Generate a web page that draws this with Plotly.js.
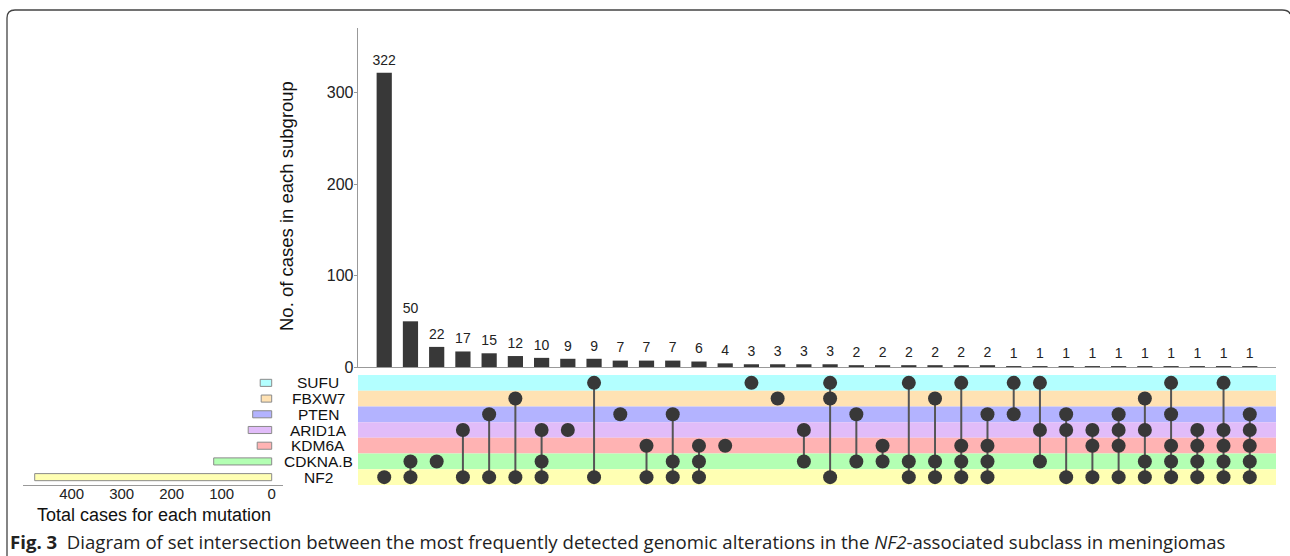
<!DOCTYPE html>
<html><head><meta charset="utf-8">
<script src="https://cdn.plot.ly/plotly-3.0.1.min.js"></script>
<style>html,body{margin:0;padding:0;background:#fff}#chart{width:1290px;height:556px}</style>
</head><body><div id="chart"></div>
<script>
// ---- data ----
const sets = ["SUFU","FBXW7","PTEN","ARID1A","KDM6A","CDKNA.B","NF2"];
const setTotals = [23, 21, 38, 47, 29, 116, 474];
const setColors = ["#b3ffff","#ffe2b3","#b3b3ff","#e1bcf9","#ffb3b3","#b3ffb3","#ffffb3"];
const subgroupCounts = [322,50,22,17,15,12,10,9,9,7,7,7,6,4,3,3,3,3,2,2,2,2,2,2,1,1,1,1,1,1,1,1,1,1];
const subgroupMembers = [
 ["NF2"],
 ["CDKNA.B","NF2"],
 ["CDKNA.B"],
 ["ARID1A","NF2"],
 ["PTEN","NF2"],
 ["FBXW7","NF2"],
 ["ARID1A","CDKNA.B","NF2"],
 ["ARID1A"],
 ["SUFU","NF2"],
 ["PTEN"],
 ["KDM6A","NF2"],
 ["PTEN","CDKNA.B","NF2"],
 ["KDM6A","CDKNA.B","NF2"],
 ["KDM6A"],
 ["SUFU"],
 ["FBXW7"],
 ["ARID1A","CDKNA.B"],
 ["SUFU","FBXW7","NF2"],
 ["PTEN","CDKNA.B"],
 ["KDM6A","CDKNA.B"],
 ["SUFU","CDKNA.B","NF2"],
 ["FBXW7","CDKNA.B","NF2"],
 ["SUFU","KDM6A","CDKNA.B","NF2"],
 ["PTEN","KDM6A","CDKNA.B","NF2"],
 ["SUFU","PTEN"],
 ["SUFU","ARID1A","CDKNA.B"],
 ["PTEN","ARID1A","NF2"],
 ["ARID1A","KDM6A","NF2"],
 ["PTEN","ARID1A","KDM6A","NF2"],
 ["FBXW7","ARID1A","CDKNA.B","NF2"],
 ["SUFU","PTEN","KDM6A","CDKNA.B","NF2"],
 ["ARID1A","KDM6A","CDKNA.B","NF2"],
 ["SUFU","ARID1A","KDM6A","CDKNA.B","NF2"],
 ["PTEN","ARID1A","KDM6A","CDKNA.B","NF2"]
];
const yTickVals = [0,100,200,300];
const xTickVals = [0,100,200,300,400];
const yTitle = "No. of cases in each subgroup";
const xTitle = "Total cases for each mutation";
const caption = "<b>Fig. 3</b>\u00a0\u00a0Diagram of set intersection between the most frequently detected genomic alterations in the <i>NF2</i>-associated subclass in meningiomas";

// ---- helpers ----
const W = 1290, H = 556;
const px = x => x / W;
const py = y => 1 - y / H;
const rowOrder = sets.slice().reverse(); // bottom -> top
const rowIdx = s => rowOrder.indexOf(s);
const cols = subgroupCounts.map((_, i) => i + 1);
const FONT = "Liberation Sans, Arial, sans-serif";

const traces = [];
// top bars
traces.push({
  type: "bar", x: cols, y: subgroupCounts, xaxis: "x", yaxis: "y",
  marker: {color: "#383838"}, width: 0.58, hoverinfo: "skip"
});
// bar value labels
traces.push({
  type: "scatter", mode: "markers+text", x: cols, y: subgroupCounts, xaxis: "x", yaxis: "y",
  marker: {size: 6, color: "rgba(0,0,0,0)"}, text: subgroupCounts.map(String),
  textposition: "top center", cliponaxis: false,
  textfont: {size: 14, color: "#222", family: FONT}, hoverinfo: "skip"
});
// matrix connecting lines
const lx = [], ly = [];
subgroupMembers.forEach((m, i) => {
  if (m.length > 1) {
    const idx = m.map(rowIdx);
    const lo = rowOrder[Math.min(...idx)], hi = rowOrder[Math.max(...idx)];
    lx.push(cols[i], cols[i], null); ly.push(lo, hi, null);
  }
});
traces.push({type: "scatter", mode: "lines", x: lx, y: ly, xaxis: "x2", yaxis: "y2",
  line: {color: "#555", width: 2}, hoverinfo: "skip", connectgaps: false});
// matrix dots
const dx = [], dy = [];
subgroupMembers.forEach((m, i) => m.forEach(s => { dx.push(cols[i]); dy.push(s); }));
traces.push({type: "scatter", mode: "markers", x: dx, y: dy, xaxis: "x2", yaxis: "y2",
  marker: {size: 14, color: "#383838"}, hoverinfo: "skip"});
// left bars
traces.push({type: "bar", orientation: "h", x: setTotals, y: sets, xaxis: "x3", yaxis: "y3",
  marker: {color: setColors, line: {color: "#8a8a8a", width: 1}}, width: 0.45, hoverinfo: "skip"});

// bands
const shapes = sets.map((s, k) => ({
  type: "rect", layer: "below", xref: "x2", yref: "y2",
  x0: 0, x1: 35, y0: rowIdx(s) - 0.5, y1: rowIdx(s) + 0.5,
  fillcolor: setColors[k], line: {width: 0}
}));
// frame
shapes.push({type: "path", xref: "paper", yref: "paper",
  path: `M ${px(7)},${py(556)} L ${px(7)},${py(18)} Q ${px(7)},${py(10)} ${px(15)},${py(10)} L ${px(1282)},${py(10)} Q ${px(1289)},${py(10)} ${px(1290)},${py(14)}`,
  line: {color: "#444", width: 1.3}});

const annotations = sets.map(s => ({
  xref: "paper", yref: "y2", x: px(318), y: s, text: s, showarrow: false,
  xanchor: "center", yanchor: "middle", font: {size: 15.5, color: "#111"}
}));
annotations.push({xref: "paper", yref: "paper", x: px(287), y: py(206), text: yTitle,
  textangle: -90, showarrow: false, xanchor: "center", yanchor: "middle",
  font: {size: 18.5, color: "#111"}});
annotations.push({xref: "paper", yref: "paper", x: px(153.5), y: py(515), text: xTitle,
  showarrow: false, xanchor: "center", yanchor: "middle",
  font: {size: 18, color: "#111"}});
annotations.push({xref: "paper", yref: "paper", x: px(8), y: py(541), text: caption,
  showarrow: false, xanchor: "left", yanchor: "middle",
  font: {size: 18.6, color: "#222", family: "Open Sans, sans-serif"}});

const layout = {
  width: W, height: H, margin: {l: 0, r: 0, t: 0, b: 0},
  paper_bgcolor: "#fff", plot_bgcolor: "rgba(0,0,0,0)",
  showlegend: false, hovermode: false,
  font: {family: FONT, color: "#222"},
  xaxis: {domain: [px(358), px(1276)], range: [0, 35], anchor: "y",
    showline: true, linecolor: "#999", linewidth: 1.3, showticklabels: false, ticks: "",
    showgrid: false, zeroline: false},
  yaxis: {domain: [py(367), py(28)], range: [0, 371], anchor: "x",
    showline: true, linecolor: "#999", linewidth: 1.3, ticks: "outside", ticklen: 3,
    tickcolor: "#999", tickvals: yTickVals, tickfont: {size: 16, color: "#222"},
    ticklabelstandoff: -3, showgrid: false, zeroline: false},
  xaxis2: {domain: [px(358), px(1276)], range: [0, 35], anchor: "y2", visible: false},
  yaxis2: {domain: [py(485), py(375)], type: "category", categoryorder: "array",
    categoryarray: rowOrder, range: [-0.5, 6.5], anchor: "x2", visible: false},
  xaxis3: {domain: [px(23), px(283)], range: [497.4, -22.6], anchor: "y3",
    showline: true, linecolor: "#999", linewidth: 1.3, ticks: "", tickvals: xTickVals,
    tickfont: {size: 15, color: "#222"}, ticklabelstandoff: -5,
    showgrid: false, zeroline: false},
  yaxis3: {domain: [py(485), py(375)], type: "category", categoryorder: "array",
    categoryarray: rowOrder, range: [-0.5, 6.5], anchor: "x3", visible: false},
  shapes: shapes, annotations: annotations
};
Plotly.newPlot("chart", traces, layout, {staticPlot: true, displayModeBar: false});
</script></body></html>
